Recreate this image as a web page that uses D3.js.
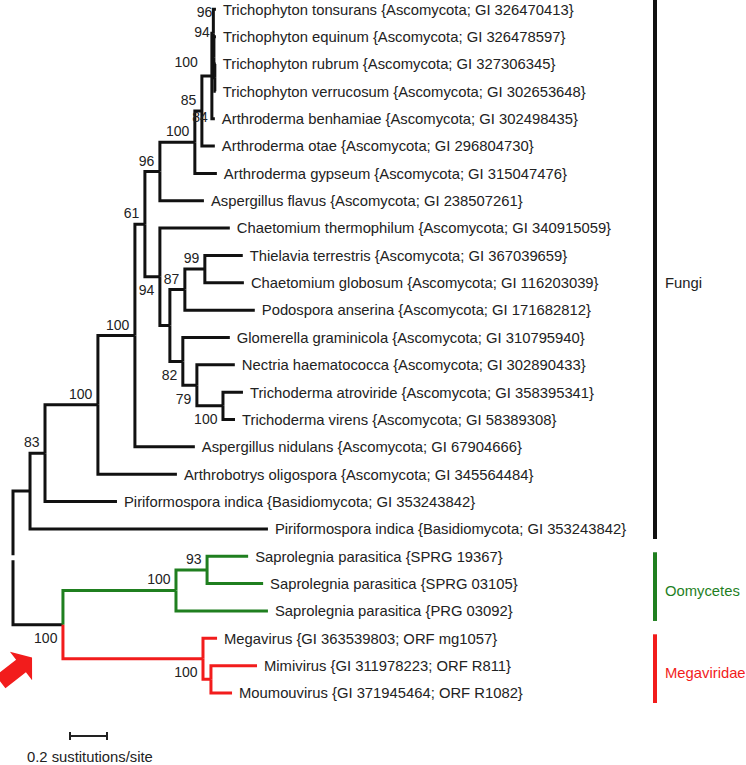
<!DOCTYPE html>
<html>
<head>
<meta charset="utf-8">
<script src="https://cdn.jsdelivr.net/npm/d3@7"></script>
<style>
  html, body { margin: 0; padding: 0; background: #fff; }
  svg { display: block; font-family: "Liberation Sans", Arial, Helvetica, sans-serif; }
</style>
</head>
<body>
<svg id="chart" width="746" height="765"></svg>
<script>
// ---------------- DATA ----------------
// tree table: node id, parent id, branch length (substitutions/site), bootstrap support
const nodeIds = [
  "root","F0","N83","N100a","N100b","N61","N96","N100c","N85","NA","NC","L0","NE","L1","NR","L2","L3","L4","L5","L6","L7",
  "N94","L8","NX","N87","N99","L9","L10","L11","N82","L12","N79","L13","N100d","L14","L15","L16","L17","L18","L19",
  "NV","NO","NO2","L20","L21","L22","NM","L23","NM2","L24","L25"
];
const parentIds = [
  "","root","F0","N83","N100a","N100b","N61","N96","N100c","N85","NA","NC","NC","NE","NE","NR","NR","NA","N85","N100c","N96",
  "N61","N94","N94","NX","N87","N99","N99","N87","NX","N82","N82","N79","N79","N100d","N100d","N100b","N100a","N83","F0",
  "root","NV","NO","NO2","NO2","NO","NV","NM","NM","NM2","NM2"
];
const branchLengths = [
  0,0.092,0.081,0.286,0.200,0.054,0.081,0.189,0.038,0.054,0.008,0.014,0.003,0.011,0.005,0.005,0.005,0.016,0.070,0.119,0.238,
  0.081,0.378,0.054,0.081,0.108,0.205,0.211,0.378,0.070,0.254,0.076,0.205,0.141,0.108,0.065,0.324,0.427,0.389,1.286,
  0.270,0.611,0.168,0.222,0.303,0.497,0.757,0.076,0.043,0.249,0.114
];
const supportValues = [
  null,null,83,100,100,61,96,100,85,84,96,null,94,null,100,null,null,null,null,null,null,
  94,null,null,87,99,null,null,null,82,null,79,null,100,null,null,null,null,null,null,
  100,100,93,null,null,null,100,null,null,null,null
];
const leafLabels = [
  "Trichophyton tonsurans {Ascomycota; GI 326470413}",
  "Trichophyton equinum {Ascomycota; GI 326478597}",
  "Trichophyton rubrum {Ascomycota; GI 327306345}",
  "Trichophyton verrucosum {Ascomycota; GI 302653648}",
  "Arthroderma benhamiae {Ascomycota; GI 302498435}",
  "Arthroderma otae {Ascomycota; GI 296804730}",
  "Arthroderma gypseum {Ascomycota; GI 315047476}",
  "Aspergillus flavus {Ascomycota; GI 238507261}",
  "Chaetomium thermophilum {Ascomycota; GI 340915059}",
  "Thielavia terrestris {Ascomycota; GI 367039659}",
  "Chaetomium globosum {Ascomycota; GI 116203039}",
  "Podospora anserina {Ascomycota; GI 171682812}",
  "Glomerella graminicola {Ascomycota; GI 310795940}",
  "Nectria haematococca {Ascomycota; GI 302890433}",
  "Trichoderma atroviride {Ascomycota; GI 358395341}",
  "Trichoderma virens {Ascomycota; GI 58389308}",
  "Aspergillus nidulans {Ascomycota; GI 67904666}",
  "Arthrobotrys oligospora {Ascomycota; GI 345564484}",
  "Piriformospora indica {Basidiomycota; GI 353243842}",
  "Piriformospora indica {Basidiomycota; GI 353243842}",
  "Saprolegnia parasitica {SPRG 19367}",
  "Saprolegnia parasitica {SPRG 03105}",
  "Saprolegnia parasitica {PRG 03092}",
  "Megavirus {GI 363539803; ORF mg1057}",
  "Mimivirus {GI 311978223; ORF R811}",
  "Moumouvirus {GI 371945464; ORF R1082}"
];
const cladeNames = ["Fungi", "Oomycetes", "Megaviridae"];
const cladeRoots = ["F0", "NO", "NM"];
const cladeFirstLeaf = [0, 20, 23];
const cladeLastLeaf = [19, 22, 25];
const scaleBarValue = 0.2;
const scaleBarLabel = "0.2 sustitutions/site";

// ---------------- STYLE ----------------
const cladeColors = ["#111111", "#1f7f1f", "#f21c1c"];
const lineWidth = 3;
const leafFont = 14.8, supportFont = 14;
const lowerLeftSupport = new Set(["N94", "N82", "N79", "N100d", "NV", "NM"]);
const specialSupportOffset = { NC: [-1, -21], NE: [-4, -25], NR: [-17, -16], NA: [-4, 41] };

// ---------------- BUILD ----------------
const table = nodeIds.map((id, i) => ({ id, parent: parentIds[i] || null, len: branchLengths[i], sup: supportValues[i] }));
const root = d3.stratify().id(d => d.id).parentId(d => d.parent)(table);

const svg = d3.select("#chart");
const x = d3.scaleLinear().domain([0, 1]).range([13, 198]);
const y = d3.scaleLinear().domain([0, 25]).range([9.3, 693]);

// cumulative depth
root.each(n => { n.depth_len = n.parent ? n.parent.depth_len + n.data.len : 0; });
// leaf order
let leafIdx = 0;
root.eachBefore(n => { if (!n.children) { n.leafIndex = +n.id.slice(1); } });
root.eachAfter(n => {
  n.px = x(n.depth_len);
  if (!n.children) n.py = y(n.leafIndex);
  else n.py = (n.children[0].py + n.children[n.children.length - 1].py) / 2;
});
// colour by clade
root.each(n => {
  n.color = cladeColors[0];
  let a = n;
  while (a) {
    if (a.id === "NO") { n.color = cladeColors[1]; break; }
    if (a.id === "NM") { n.color = cladeColors[2]; break; }
    a = a.parent;
  }
});
const nvNode = root.descendants().find(n => n.id === "NV");
nvNode.color = cladeColors[0];

const gap = 2.5;
const links = root.descendants().filter(n => n.parent);
svg.append("g").selectAll("path").data(links).join("path")
  .attr("fill", "none")
  .attr("stroke", d => d.color)
  .attr("stroke-width", lineWidth)
  .attr("stroke-linejoin", "miter")
  .attr("d", d => {
    const p = d.parent;
    let sy = p.py;
    if (p === root) sy = p.py + (d.py < p.py ? -gap : gap);
    return `M${p.px},${sy}V${d.py}H${d.px}`;
  });

// leaf labels
const leaves = root.leaves();
svg.append("g").selectAll("text").data(leaves).join("text")
  .attr("x", d => d.px + 7)
  .attr("y", d => d.py)
  .attr("dy", "0.36em")
  .attr("font-size", leafFont)
  .attr("fill", "#222")
  .text(d => leafLabels[d.leafIndex]);

// support values
const supNodes = root.descendants().filter(n => n.data.sup != null);
svg.append("g").selectAll("text").data(supNodes).join("text")
  .attr("text-anchor", "end")
  .attr("font-size", supportFont)
  .attr("fill", "#222")
  .attr("dy", "0.36em")
  .attr("x", d => specialSupportOffset[d.id] ? d.px + specialSupportOffset[d.id][0] : d.px - 5.5)
  .attr("y", d => specialSupportOffset[d.id] ? d.py + specialSupportOffset[d.id][1]
        : (lowerLeftSupport.has(d.id) ? d.py + 13.5 : d.py - 11))
  .text(d => d.data.sup);

// clade bars
const barX = 655;
cladeNames.forEach((name, i) => {
  const y0 = y(cladeFirstLeaf[i]) - (i === 0 ? 10 : 4);
  const y1 = y(cladeLastLeaf[i]) + 10;
  svg.append("line")
    .attr("x1", barX).attr("x2", barX).attr("y1", y0).attr("y2", y1)
    .attr("stroke", cladeColors[i]).attr("stroke-width", 4);
  svg.append("text")
    .attr("x", barX + 10)
    .attr("y", i === 0 ? 283 - 0 : (y0 + y1) / 2 + 4)
    .attr("dy", "0.36em")
    .attr("font-size", leafFont)
    .attr("fill", cladeColors[i] === "#111111" ? "#222" : cladeColors[i])
    .text(name);
});

// red arrow pointing to the Megaviridae/Oomycetes node
const arrow = svg.append("g").attr("transform", "translate(21,666) rotate(-38)");
arrow.append("path")
  .attr("fill", "#f21c1c")
  .attr("d", "M-26,-8 L0,-8 L0,-18 L14,0 L0,18 L0,8 L-26,8 Z");

// scale bar
const sbX = 70, sbY = 736;
const sbW = x(scaleBarValue) - x(0);
const sb = svg.append("g").attr("stroke", "#222").attr("stroke-width", 2);
sb.append("line").attr("x1", sbX).attr("x2", sbX + sbW).attr("y1", sbY).attr("y2", sbY);
sb.append("line").attr("x1", sbX).attr("x2", sbX).attr("y1", sbY - 4).attr("y2", sbY + 4);
sb.append("line").attr("x1", sbX + sbW).attr("x2", sbX + sbW).attr("y1", sbY - 4).attr("y2", sbY + 4);
svg.append("text")
  .attr("x", 27).attr("y", 757).attr("dy", "0.36em")
  .attr("font-size", leafFont).attr("fill", "#222")
  .text(scaleBarLabel);
</script>
</body>
</html>
